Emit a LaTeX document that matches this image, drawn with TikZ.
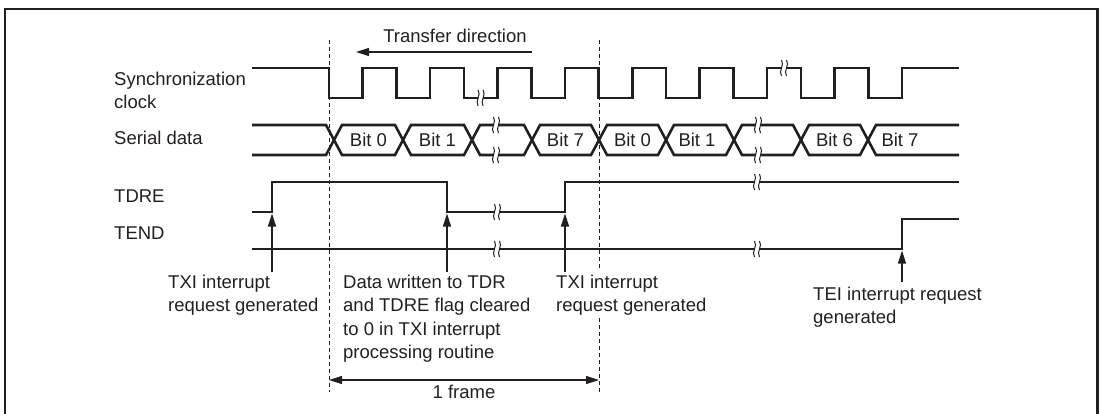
\documentclass[tikz,border=0pt]{standalone}
\usepackage{fontspec}
\setmainfont{Liberation Sans}
\usetikzlibrary{arrows.meta}

\begin{document}
\begin{tikzpicture}[x=1pt,y=-1pt,font=\fontsize{18.5}{23.5}\selectfont]

\definecolor{ink}{RGB}{35,31,32}

\def\hp{33.7}  % clock half period (px)
\def\ck{68}    % clock high level
\def\dt{125}   % serial data, upper rail
\def\db{155}   % serial data, lower rail

\tikzset{
  wave/.style={ink, line width=2.6pt, line join=miter},
  guide/.style={ink, line width=0.9pt, dash pattern=on 4pt off 3pt},
  evarrow/.style={ink, line width=1.3pt, -{Triangle[length=13pt,width=8pt]}},
  dimarrow/.style={ink, line width=1.3pt, {Triangle[length=13pt,width=8pt]}-{Triangle[length=13pt,width=8pt]}},
  lbl/.style={inner sep=0pt, text=ink, align=left},
}

% ---------------- helper: break mark ----------------
\newcommand{\brkmark}[2]{%
  \fill[white] (#1-2.5,#2-7.5) rectangle (#1+2.5,#2+7.5);
  \draw[ink, line width=1pt] (#1-2.5,#2-8) .. controls (#1+1,#2-3) and (#1-6,#2+3) .. (#1-2.5,#2+8);
  \draw[ink, line width=1pt] (#1+2.5,#2-8) .. controls (#1+6,#2-3) and (#1-1,#2+3) .. (#1+2.5,#2+8);
}

\useasboundingbox (0,0) rectangle (1102,414);
\draw[ink, line width=2.6pt] (5,414) -- (5,9) -- (1097.5,9) -- (1097.5,414);

% ---------------- row names ----------------
\node[lbl, anchor=north west] (sclk) at (114,71.7) {Synchronization\\clock};
\node[lbl, anchor=base west] (sdat) at (114,145) {Serial data};
\node[lbl, anchor=base west] (tdre) at (114,203) {TDRE};
\node[lbl, anchor=base west] (tend) at (114,239) {TEND};

% ---------------- frame guides ----------------
\coordinate (f0top) at (329,40);  \coordinate (f0bot) at (329,392);
\coordinate (f1top) at (599,40);  \coordinate (f1bot) at (599,392);
\coordinate (f1gapA) at (599,268); \coordinate (f1gapB) at (599,318);
\draw[guide] (f0top) -- (f0bot);
\draw[guide] (f1top) -- (f1gapA);
\draw[guide] (f1gapB) -- (f1bot);

\node[lbl, anchor=base] (xfer) at (455,43) {Transfer direction};
\coordinate (xferR) at (532,52);
\coordinate (xferL) at (356,52);
\draw[evarrow] (xferR) -- (xferL);

% =========== clock ===========
\draw[wave] (252,\ck) -- (329,\ck)
  foreach \j in {0,...,8} { -- ++(0,30) -- ++(\hp,0) -- ++(0,-30) -- ++(\hp,0) }
  -- (959,\ck);
\brkmark{480.6}{98}
\brkmark{784}{\ck}

% =========== serial data ===========
\draw[wave] (252,\dt)
  foreach \c/\u/\v in {334/125/155, 403/155/125, 472/125/155, 532/155/125, 599/125/155,
                       666/155/125, 734/125/155, 801/155/125, 868/125/155}
  { -- (\c-8,\u) -- (\c+8,\v) } -- (959,\db);
\draw[wave] (252,\db)
  foreach \c/\u/\v in {334/155/125, 403/125/155, 472/155/125, 532/125/155, 599/155/125,
                       666/125/155, 734/155/125, 801/125/155, 868/155/125}
  { -- (\c-8,\u) -- (\c+8,\v) } -- (959,\dt);
\foreach \x/\t/\n in {368.5/Bit 0/b0a, 437.5/Bit 1/b1a, 565.5/Bit 7/b7a,
                      632.5/Bit 0/b0b, 697/Bit 1/b1b, 834.5/Bit 6/b6b, 900/Bit 7/b7b}
  \node[lbl] (\n) at (\x,140) {\t};
\brkmark{496}{\dt}
\brkmark{496}{\db}
\brkmark{758}{\dt}
\brkmark{758}{\db}

% =========== TDRE / TEND ===========
\draw[wave] (252,212) -- (272,212) -- (272,182) -- (447,182) -- (447,212)
  -- (565,212) -- (565,182) -- (959,182);
\brkmark{497}{212}
\brkmark{757}{182}
\draw[wave] (252,249) -- (902,249) -- (902,219) -- (959,219);
\brkmark{497}{249}
\brkmark{757}{249}

% ---------------- events ----------------
\coordinate (evA) at (272,213.5); \coordinate (evAfoot) at (272,272);
\coordinate (evB) at (447,213.5); \coordinate (evBfoot) at (447,272);
\coordinate (evC) at (565,213.5); \coordinate (evCfoot) at (565,272);
\coordinate (evD) at (902,250.5); \coordinate (evDfoot) at (902,282);
\draw[evarrow] (evAfoot) -- (evA);
\draw[evarrow] (evBfoot) -- (evB);
\draw[evarrow] (evCfoot) -- (evC);
\draw[evarrow] (evDfoot) -- (evD);

\node[lbl, anchor=north west] (txiA) at (168,274.7) {TXI interrupt\\request generated};
\node[lbl, anchor=north west] (wrtdr) at (343,274.7)
  {Data written to TDR\\and TDRE flag cleared\\to 0 in TXI interrupt\\processing routine};
\node[lbl, anchor=north west] (txiB) at (556,274.7) {TXI interrupt\\request generated};
\node[lbl, anchor=north west] (tei) at (813,286.7) {TEI interrupt request\\generated};

% ---------------- one frame ----------------
\coordinate (frL) at (329,380);
\coordinate (frR) at (599,380);
\draw[dimarrow] (frL) -- (frR);
\node[lbl, anchor=base] (frame) at (464,398) {1 frame};

\end{tikzpicture}
\end{document}
